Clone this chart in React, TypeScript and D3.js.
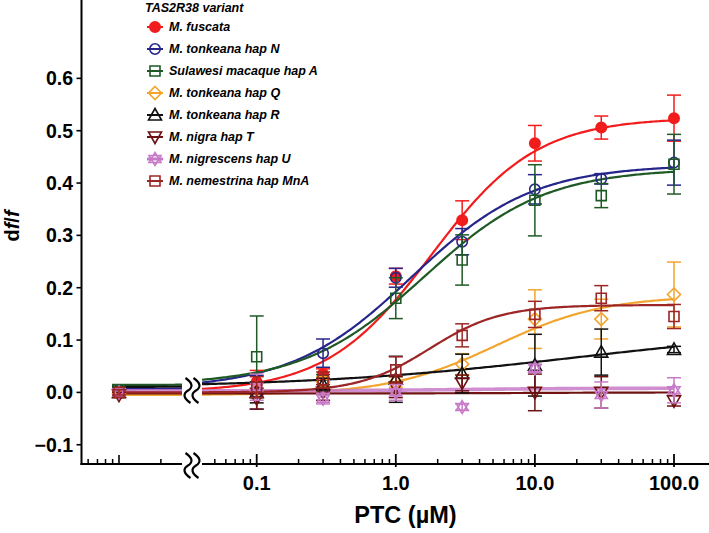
import React from "react";
import * as d3 from "d3";

// ---------- data ----------
const concs = [0.1, 0.3, 1, 3, 10, 30, 100];
const controlConc = 0.001; // plotted left of the axis break

const seriesNames = [
  "M. fuscata",
  "M. tonkeana hap N",
  "Sulawesi macaque hap A",
  "M. tonkeana hap Q",
  "M. tonkeana hap R",
  "M. nigra hap T",
  "M. nigrescens hap U",
  "M. nemestrina hap MnA",
];
const seriesColors = ["#f21c1c", "#26268a", "#1f5a26", "#f2a52e", "#111111", "#6e1212", "#c77ac7", "#9c2626"];
const seriesMarkers = ["filledCircle", "circle", "square", "diamond", "triangleUp", "triangleDown", "star", "square"];

const fuscataMean = [0.02, 0.035, 0.222, 0.329, 0.476, 0.506, 0.524];
const fuscataErr = [0.022, 0.01, 0.015, 0.037, 0.034, 0.022, 0.044];
const hapNMean = [0.0, 0.075, 0.219, 0.288, 0.388, 0.408, 0.439];
const hapNErr = [0.032, 0.027, 0.018, 0.025, 0.028, 0.01, 0.043];
const hapAMean = [0.068, 0.022, 0.18, 0.253, 0.367, 0.376, 0.436];
const hapAErr = [0.078, 0.012, 0.039, 0.048, 0.068, 0.023, 0.057];
const hapQMean = [0.005, 0.02, 0.02, 0.054, 0.14, 0.14, 0.187];
const hapQErr = [0.015, 0.01, 0.01, 0.02, 0.056, 0.038, 0.062];
const hapRMean = [0.0, 0.015, 0.025, 0.036, 0.052, 0.077, 0.082];
const hapRErr = [0.02, 0.012, 0.044, 0.037, 0.059, 0.044, 0.006];
const hapTMean = [-0.012, 0.0, 0.01, 0.018, 0.0, 0.0, -0.016];
const hapTErr = [0.02, 0.015, 0.02, 0.015, 0.035, 0.03, 0.01];
const hapUMean = [0.01, -0.012, 0.0, -0.028, 0.046, -0.005, 0.004];
const hapUErr = [0.025, 0.01, 0.015, 0.006, 0.008, 0.025, 0.024];
const hapMnAMean = [0.01, 0.024, 0.043, 0.109, 0.149, 0.18, 0.145];
const hapMnAErr = [0.02, 0.015, 0.025, 0.022, 0.025, 0.024, 0.023];

const controlMean = [0.0, 0.0, 0.005, -0.003, 0.0, -0.005, 0.0, 0.0];
const controlErr = [0.005, 0.005, 0.005, 0.005, 0.005, 0.005, 0.005, 0.005];

// fitted dose-response curve parameters (bottom, top, EC50, Hill slope)
const fitBottom = [0.0, 0.006, 0.014, -0.005, 0.009, -0.002, 0.003, 0.0];
const fitTop = [0.525, 0.435, 0.428, 0.185, 0.125, 0.0, 0.008, 0.167];
const fitEC50 = [1.8, 1.3, 1.6, 5.3, 20, 10, 3, 1.75];
const fitHill = [1.15, 1.0, 1.0, 1.12, 0.45, 1.0, 1.0, 1.7];

const allMeans = [fuscataMean, hapNMean, hapAMean, hapQMean, hapRMean, hapTMean, hapUMean, hapMnAMean];
const allErrs = [fuscataErr, hapNErr, hapAErr, hapQErr, hapRErr, hapTErr, hapUErr, hapMnAErr];

const yTicks = [-0.1, 0.0, 0.1, 0.2, 0.3, 0.4, 0.5, 0.6];
const xMajorTicks = [0.1, 1, 10, 100];
const xTickLabels = ["0.1", "1.0", "10.0", "100.0"];

// ---------- layout ----------
const W = 709;
const H = 533;
const axisX = 81.5;
const axisY = 464;
const breakL = 182;
const breakR = 202;
const FONT = "'Liberation Sans', Arial, Helvetica, sans-serif";

const y = d3.scaleLinear().domain([-0.1368, 0.7497]).range([axisY, 0]);
const xRight = d3.scaleLog().domain([0.1, 100]).range([256.7, 674]);
const decade = (674 - 256.7) / 3;
const xLeft = d3.scaleLog().domain([0.001, 0.01]).range([119, 119 + decade]);

function hill(i: number, c: number) {
  return fitBottom[i] + (fitTop[i] - fitBottom[i]) / (1 + Math.pow(fitEC50[i] / c, fitHill[i]));
}

function markerPath(type: string): string {
  switch (type) {
    case "filledCircle":
    case "circle":
      return d3.symbol(d3.symbolCircle, Math.PI * 5.2 * 5.2)()!;
    case "square":
      return "M-5,-5H5V5H-5Z";
    case "diamond":
      return "M0,-6.5L6.5,0L0,6.5L-6.5,0Z";
    case "triangleUp":
      return "M0,-6.5L6.5,5L-6.5,5Z";
    case "triangleDown":
      return "M0,6.5L6.5,-5L-6.5,-5Z";
    case "star":
      return "M0,-6.5L6,3.5L-6,3.5Z M0,6.5L6,-3.5L-6,-3.5Z";
  }
  return "";
}

function Marker({ x, yy, i }: { x: number; yy: number; i: number }) {
  const type = seriesMarkers[i];
  const color = seriesColors[i];
  const filled = type === "filledCircle";
  return (
    <path
      d={markerPath(type)}
      transform={`translate(${x},${yy})`}
      fill={filled ? color : "none"}
      stroke={color}
      strokeWidth={1.6}
    />
  );
}

function ErrorBar({ x, m, e, color }: { x: number; m: number; e: number; color: string }) {
  const y1 = y(m + e);
  const y2 = y(m - e);
  const cw = 7;
  return (
    <g stroke={color} strokeWidth={1.5} fill="none">
      <line x1={x} x2={x} y1={y1} y2={y2} />
      <line x1={x - cw} x2={x + cw} y1={y1} y2={y1} />
      <line x1={x - cw} x2={x + cw} y1={y2} y2={y2} />
    </g>
  );
}

function Squiggles({ y0, h }: { y0: number; h: number }) {
  const mk = (x: number) =>
    `M${x - 2.5},${y0} C${x + 5},${y0 + h * 0.2} ${x + 5},${y0 + h * 0.38} ${x},${y0 + h * 0.5} C${x - 5},${y0 + h * 0.62} ${x - 5},${y0 + h * 0.8} ${x + 2.5},${y0 + h}`;
  return (
    <g>
      <rect x={breakL + 1} y={y0 - 1} width={breakR - breakL - 2} height={h + 2} fill="#fff" />
      <path d={mk(188)} fill="none" stroke="#000" strokeWidth={2.2} />
      <path d={mk(196)} fill="none" stroke="#000" strokeWidth={2.2} />
    </g>
  );
}

export default function App() {
  const line = d3
    .line<[number, number]>()
    .x((d) => d[0])
    .y((d) => d[1]);

  const curves = seriesNames.map((_, i) => {
    const left: [number, number][] = d3.range(112, breakL + 0.1, 2).map((px) => [px, y(hill(i, xLeft.invert(px)))]);
    const right: [number, number][] = d3.range(breakR, 674.1, 2).map((px) => [px, y(hill(i, xRight.invert(px)))]);
    return { left: line(left)!, right: line(right)! };
  });

  // minor ticks
  const rightMinor: number[] = [];
  [0.01, 0.1, 1, 10].forEach((dec) => {
    for (let k = 2; k <= 9; k++) {
      const v = dec * k;
      const px = xRight(v);
      if (px > breakR + 1 && px <= W) rightMinor.push(px);
    }
  });
  const leftMinor: number[] = [];
  [0.0001, 0.001].forEach((dec) => {
    for (let k = 2; k <= 9; k++) {
      const px = xLeft(dec * k);
      if (px > axisX + 2 && px < breakL - 1) leftMinor.push(px);
    }
  });

  const drawOrder = d3.range(seriesNames.length);

  return (
    <svg
      width={W}
      height={H}
      viewBox={`0 0 ${W} ${H}`}
      style={{ position: "absolute", left: 0, top: 0, background: "#fff" }}
      fontFamily={FONT}
    >
      <rect x={0} y={0} width={W} height={H} fill="#fff" />

      {/* curves */}
      {drawOrder.map((i) => (
        <g key={"c" + i} fill="none" stroke={seriesColors[i]} strokeWidth={i === 6 ? 3.6 : 2.2} opacity={i === 6 ? 0.85 : 1}>
          <path d={curves[i].left} />
          <path d={curves[i].right} />
        </g>
      ))}

      {/* break on the curves */}
      <Squiggles y0={378} h={25} />

      {/* error bars and markers */}
      {drawOrder.map((i) => (
        <g key={"p" + i}>
          <ErrorBar x={xLeft(controlConc)} m={controlMean[i]} e={controlErr[i]} color={seriesColors[i]} />
          <Marker x={xLeft(controlConc)} yy={y(controlMean[i])} i={i} />
          {concs.map((c, j) => (
            <g key={j}>
              <ErrorBar x={xRight(c)} m={allMeans[i][j]} e={allErrs[i][j]} color={seriesColors[i]} />
              <Marker x={xRight(c)} yy={y(allMeans[i][j])} i={i} />
            </g>
          ))}
        </g>
      ))}

      {/* y axis */}
      <line x1={axisX} x2={axisX} y1={0} y2={axisY + 1} stroke="#000" strokeWidth={2} />
      {yTicks.map((t) => (
        <g key={t}>
          <line x1={axisX - 5} x2={axisX} y1={y(t)} y2={y(t)} stroke="#000" strokeWidth={1.6} />
          <text x={73} y={y(t)} dy="0.36em" textAnchor="end" fontSize={19.5} fontWeight="bold">
            {t < 0 ? "\u2212" + Math.abs(t).toFixed(1) : t.toFixed(1)}
          </text>
        </g>
      ))}
      <text transform={`translate(19,226) rotate(-90)`} textAnchor="middle" fontSize={20} fontWeight="bold">
        d<tspan fontStyle="italic">f</tspan>/<tspan fontStyle="italic">f</tspan>
      </text>

      {/* x axis */}
      <line x1={axisX - 1} x2={breakL} y1={axisY} y2={axisY} stroke="#000" strokeWidth={2} />
      <line x1={breakR} x2={W} y1={axisY} y2={axisY} stroke="#000" strokeWidth={2} />
      {leftMinor.map((px, k) => (
        <line key={"lm" + k} x1={px} x2={px} y1={axisY - 5} y2={axisY} stroke="#000" strokeWidth={1.5} />
      ))}
      <line x1={xLeft(controlConc)} x2={xLeft(controlConc)} y1={axisY - 9} y2={axisY} stroke="#000" strokeWidth={1.6} />
      {rightMinor.map((px, k) => (
        <line key={"rm" + k} x1={px} x2={px} y1={axisY - 5} y2={axisY} stroke="#000" strokeWidth={1.5} />
      ))}
      {xMajorTicks.map((t, k) => (
        <g key={t}>
          <line x1={xRight(t)} x2={xRight(t)} y1={axisY - 10} y2={axisY + 3} stroke="#000" strokeWidth={1.8} />
          <text x={xRight(t)} y={490} textAnchor="middle" fontSize={20} fontWeight="bold">
            {xTickLabels[k]}
          </text>
        </g>
      ))}
      <Squiggles y0={453} h={25} />
      <text x={405.5} y={523} textAnchor="middle" fontSize={23.5} fontWeight="bold">
        PTC (µM)
      </text>

      {/* legend */}
      <text x={145} y={11.5} fontSize={12.5} fontWeight="bold" fontStyle="italic">
        TAS2R38 variant
      </text>
      {seriesNames.map((name, i) => {
        const ly = 27 + i * 22;
        return (
          <g key={"l" + i}>
            <line x1={147} x2={163} y1={ly} y2={ly} stroke={seriesColors[i]} strokeWidth={i === 6 ? 3 : 2} />
            <Marker x={155} yy={ly} i={i} />
            <text x={169} y={ly} dy="0.35em" fontSize={12.5} fontWeight="bold" fontStyle="italic">
              {name}
            </text>
          </g>
        );
      })}
    </svg>
  );
}
